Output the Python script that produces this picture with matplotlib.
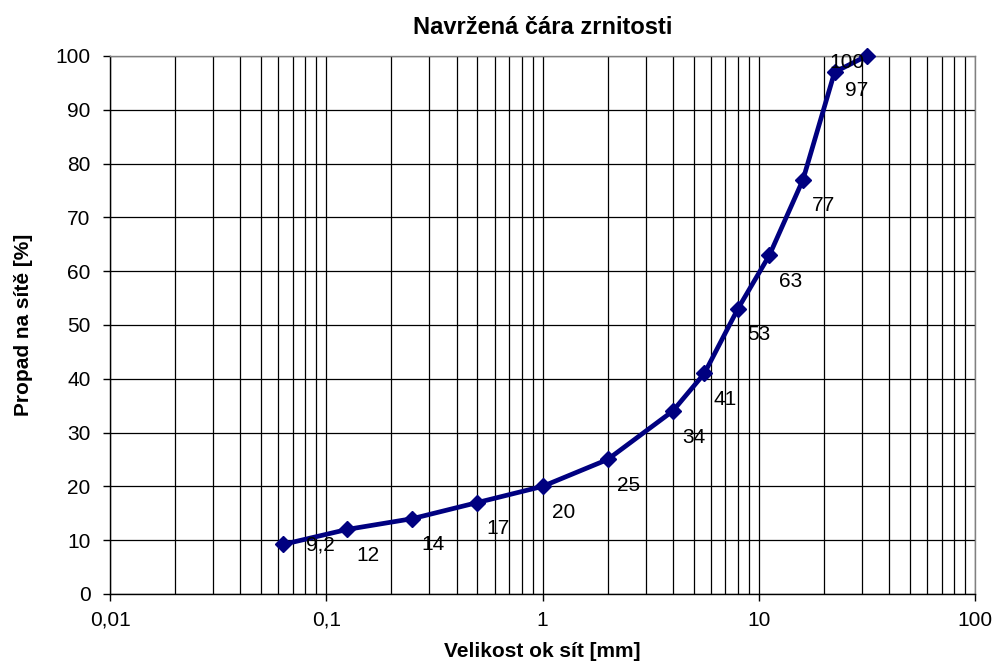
import matplotlib
matplotlib.use("Agg")
import matplotlib.pyplot as plt
from matplotlib.ticker import LogLocator, FixedLocator, NullFormatter

# sieve openings [mm] and passing share [%]
sieve_sizes = [0.063, 0.125, 0.25, 0.5, 1, 2, 4, 5.6, 8, 11.2, 16, 22.4, 31.5]
passing = [9.2, 12, 14, 17, 20, 25, 34, 41, 53, 63, 77, 97, 100]
x_ticks = [0.01, 0.1, 1, 10, 100]
x_tick_labels = ["0,01", "0,1", "1", "10", "100"]
y_ticks = list(range(0, 101, 10))

title = "Navržená čára zrnitosti"
xlabel = "Velikost ok sít [mm]"
ylabel = "Propad na sítě [%]"

plt.rcParams['font.family'] = ['Liberation Sans', 'DejaVu Sans']
line_color = "#000080"

fig = plt.figure(figsize=(9.95, 6.61), dpi=100)
ax = fig.add_axes([0.1106, 0.1014, 0.8694, 0.8139])

ax.plot(sieve_sizes, passing, color=line_color, lw=3.4, marker='D', ms=8,
        markeredgecolor=line_color, markerfacecolor=line_color, zorder=3, clip_on=False)

# value labels sit below-right of each point; the first and the top two get nudged
for i, (x, y) in enumerate(zip(sieve_sizes, passing)):
    txt = ("%g" % y).replace(".", ",")
    if i == 0:
        off = (37, -1)
    elif i == len(passing) - 1:
        off = (-20, -7)
    elif i == len(passing) - 2:
        off = (22, -18)
    else:
        off = (21, -26)
    ax.annotate(txt, (x, y), xytext=(off[0] * 0.72, off[1] * 0.72), textcoords='offset points',
                ha='center', va='center', fontsize=15, color='black', zorder=4)

ax.set_xscale('log')
ax.set_xlim(0.01, 100)
ax.set_ylim(0, 100)

ax.xaxis.set_major_locator(FixedLocator(x_ticks))
ax.set_xticks(x_ticks)
ax.set_xticklabels(x_tick_labels)
ax.xaxis.set_minor_locator(LogLocator(base=10, subs=range(2, 10)))
ax.xaxis.set_minor_formatter(NullFormatter())
ax.set_yticks(y_ticks)

ax.grid(True, which='major', color='black', lw=0.9)
ax.grid(True, which='minor', axis='x', color='black', lw=0.9)
ax.set_axisbelow(True)

ax.tick_params(axis='both', which='major', labelsize=15, length=5, width=1, direction='out', pad=7)
ax.tick_params(axis='y', which='major', pad=9)
ax.tick_params(axis='x', which='minor', length=0)
for s in ax.spines.values():
    s.set_color('black')
    s.set_linewidth(1)
ax.spines['top'].set_color('#808080')
ax.spines['right'].set_color('#808080')

ax.set_title(title, fontsize=17, fontweight='bold', pad=16)
ax.set_xlabel(xlabel, fontsize=15, fontweight='bold', labelpad=9)
ax.set_ylabel(ylabel, fontsize=15, fontweight='bold', labelpad=16)

fig.savefig("out.png", dpi=100)
